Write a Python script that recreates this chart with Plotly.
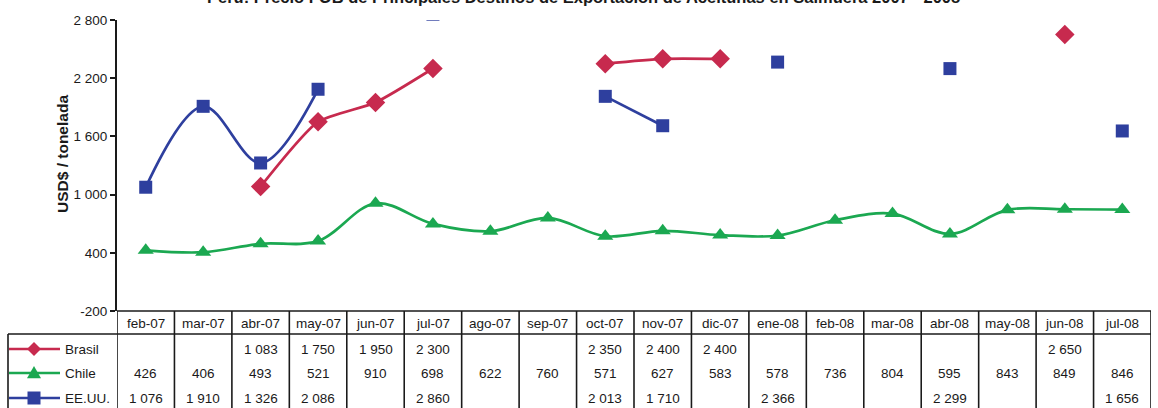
import plotly.graph_objects as go

months = ["feb-07", "mar-07", "abr-07", "may-07", "jun-07", "jul-07", "ago-07", "sep-07",
          "oct-07", "nov-07", "dic-07", "ene-08", "feb-08", "mar-08", "abr-08", "may-08",
          "jun-08", "jul-08"]
brasil = [None, None, 1083, 1750, 1950, 2300, None, None, 2350, 2400, 2400, None, None, None,
          None, None, 2650, None]
chile = [426, 406, 493, 521, 910, 698, 622, 760, 571, 627, 583, 578, 736, 804, 595, 843, 849, 846]
eeuu = [1076, 1910, 1326, 2086, None, 2860, None, None, 2013, 1710, None, 2366, None, None,
        2299, None, None, 1656]
series_names = ["Brasil", "Chile", "EE.UU."]
y_ticks = [-200, 400, 1000, 1600, 2200, 2800]
title = "Perú: Precio FOB de Principales Destinos de Exportación de Aceitunas en Salmuera 2007 - 2008"
y_title = "USD$ / tonelada"

W, H = 1158, 408
ML, MR, MT, MB = 117, 7, 20, 97
PW, PH = W - ML - MR, H - MT - MB

def fy(p):
    return (H - MB - p) / PH

def fx(p):
    return (p - ML) / PW

def fmt(v):
    return "" if v is None else f"{v:,}".replace(",", " ")

TXT = "Liberation Sans, Arial, sans-serif"
TS = 13.5
TC = "#1a1a1a"
RED, GREEN, BLUE = "#C72A4E", "#1BA851", "#2E3F9E"
colors = [RED, GREEN, BLUE]
symbols = ["diamond", "triangle-up", "square"]
msizes = [15, 14, 13]
smooth = [0.6, 1.0, 1.0]
datas = [brasil, chile, eeuu]

fig = go.Figure()
for name, d, c, s, ms, sm in zip(series_names, datas, colors, symbols, msizes, smooth):
    fig.add_trace(go.Scatter(
        x=months, y=d, name=name, mode="lines+markers",
        line=dict(color=c, width=2.7, shape="spline", smoothing=sm),
        marker=dict(symbol=s, size=ms, color=c),
        connectgaps=False, showlegend=False))

shapes = []
LINE = dict(color="#1a1a1a", width=1.6)
shapes.append(dict(type="line", xref="paper", yref="paper", x0=0, x1=1, y0=fy(311), y1=fy(311), line=LINE))
shapes.append(dict(type="line", xref="paper", yref="paper", x0=fx(8), x1=1, y0=fy(334), y1=fy(334), line=LINE))
shapes.append(dict(type="line", xref="paper", yref="paper", x0=fx(8), x1=fx(8), y0=fy(334), y1=fy(412), line=LINE))
for i in range(len(months) + 1):
    shapes.append(dict(type="line", xref="x", yref="paper", x0=i - 0.5, x1=i - 0.5,
                       y0=fy(311), y1=fy(412), line=LINE))

annotations = []
for m in months:
    annotations.append(dict(x=m, xref="x", y=fy(323), yref="paper", text=m, showarrow=False,
                            font=dict(family=TXT, size=TS, color=TC),
                            xanchor="center", yanchor="middle"))
row_y = [349, 373, 398]
for name, d, c, s, ry in zip(series_names, datas, colors, symbols, row_y):
    for m, v in zip(months, d):
        if v is not None:
            annotations.append(dict(x=m, xref="x", y=fy(ry), yref="paper", text=fmt(v), showarrow=False,
                                    font=dict(family=TXT, size=TS, color=TC),
                                    xanchor="center", yanchor="middle"))
    shapes.append(dict(type="line", xref="paper", yref="paper", x0=fx(9), x1=fx(60), y0=fy(ry), y1=fy(ry),
                       line=dict(color=c, width=2.7)))
    cx, cy = 34, ry
    if s == "diamond":
        r = 7
        pts = [(cx, cy - r), (cx + r, cy), (cx, cy + r), (cx - r, cy)]
    elif s == "triangle-up":
        r = 7
        pts = [(cx, cy - r), (cx + r, cy + r * 0.75), (cx - r, cy + r * 0.75)]
    else:
        r = 6.5
        pts = [(cx - r, cy - r), (cx + r, cy - r), (cx + r, cy + r), (cx - r, cy + r)]
    path = "M " + " L ".join(f"{fx(px):.5f},{fy(py):.5f}" for px, py in pts) + " Z"
    shapes.append(dict(type="path", xref="paper", yref="paper", path=path,
                       fillcolor=c, line=dict(color=c, width=0)))
    annotations.append(dict(x=fx(63), xref="paper", y=fy(ry), yref="paper", text=name, showarrow=False,
                            font=dict(family=TXT, size=TS, color=TC),
                            xanchor="left", yanchor="middle"))

annotations.append(dict(x=fx(583), xref="paper", y=fy(-3), yref="paper", text="<b>" + title + "</b>",
                        showarrow=False, font=dict(family=TXT, size=16.5, color=TC),
                        xanchor="center", yanchor="middle"))
annotations.append(dict(x=fx(62), xref="paper", y=fy(154), yref="paper", text="<b>" + y_title + "</b>",
                        showarrow=False, textangle=-90, font=dict(family=TXT, size=15.5, color=TC),
                        xanchor="center", yanchor="middle"))

fig.update_layout(
    width=W, height=H, margin=dict(l=ML, r=MR, t=MT, b=MB),
    paper_bgcolor="white", plot_bgcolor="white",
    shapes=shapes, annotations=annotations, showlegend=False,
    xaxis=dict(type="category", range=[-0.5, len(months) - 0.5], showticklabels=False,
               showgrid=False, zeroline=False, showline=False, ticks=""),
    yaxis=dict(range=[-200, 2800], tickvals=y_ticks, ticktext=[fmt(v) for v in y_ticks],
               showgrid=False, zeroline=False, showline=True, linecolor="#1a1a1a", linewidth=2,
               ticks="outside", ticklen=5, tickwidth=1.5, tickcolor="#1a1a1a",
               tickfont=dict(family=TXT, size=TS, color=TC)),
)

fig.write_html("out.html", config={"displayModeBar": False},
               post_script="document.body.style.margin='0px';")
